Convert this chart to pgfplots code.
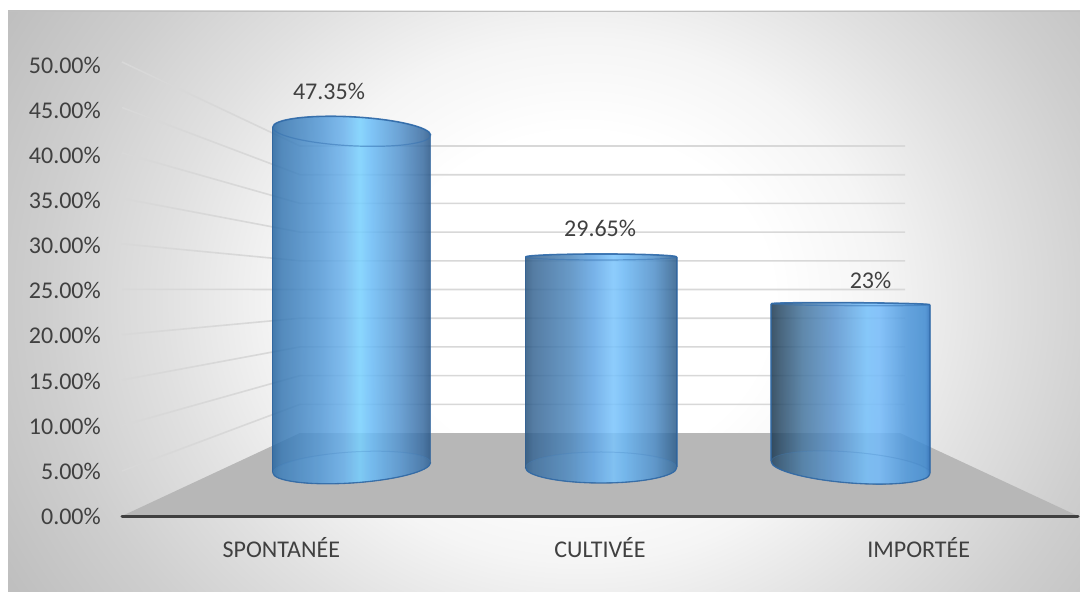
\documentclass[border=0pt]{standalone}
\usepackage{fontspec}
\setmainfont{Carlito}
\usepackage{pgfplots}
\pgfplotsset{compat=1.18}

\definecolor{labeltext}{RGB}{64,64,64}
\definecolor{floorgray}{RGB}{183,183,183}
\definecolor{wallgrid}{RGB}{216,216,216}
\definecolor{axisdark}{RGB}{64,64,64}
\definecolor{rimblue}{RGB}{52,112,176}
\definecolor{baseglow}{RGB}{116,186,244}

% Page backdrop: a soft radial fade from white to mid gray
\pgfdeclareradialshading{backdrop}{\pgfpoint{0bp}{0bp}}{%
  rgb(0bp)=(1,1,1); rgb(4.4bp)=(1,1,1); rgb(6.9bp)=(.96,.96,.96);
  rgb(9.6bp)=(.88,.88,.88); rgb(12.25bp)=(.81,.81,.81);
  rgb(15bp)=(.75,.75,.75); rgb(50bp)=(.75,.75,.75)}

% Glossy side faces of the three cylinders
\pgfdeclarehorizontalshading{cylA}{100bp}{%
  rgb(0bp)=(.15,.40,.63); rgb(25bp)=(.15,.40,.63); rgb(27.5bp)=(.22,.47,.70);
  rgb(40bp)=(.33,.60,.84); rgb(47.5bp)=(.42,.70,.93); rgb(52.5bp)=(.47,.82,1);
  rgb(56bp)=(.42,.74,.97); rgb(65bp)=(.33,.58,.81); rgb(72.5bp)=(.22,.42,.63);
  rgb(75bp)=(.15,.33,.52); rgb(100bp)=(.15,.33,.52)}
\pgfdeclarehorizontalshading{cylB}{100bp}{%
  rgb(0bp)=(.16,.33,.49); rgb(25bp)=(.16,.33,.49); rgb(27.5bp)=(.22,.40,.58);
  rgb(40bp)=(.31,.54,.75); rgb(47.5bp)=(.38,.65,.90); rgb(54bp)=(.48,.77,.99);
  rgb(57.5bp)=(.42,.72,.96); rgb(67.5bp)=(.31,.56,.79);
  rgb(75bp)=(.17,.36,.54); rgb(100bp)=(.17,.36,.54)}
\pgfdeclarehorizontalshading{cylC}{100bp}{%
  rgb(0bp)=(.11,.22,.31); rgb(25bp)=(.11,.22,.31); rgb(27.5bp)=(.16,.29,.40);
  rgb(35bp)=(.27,.46,.62); rgb(45bp)=(.35,.58,.81); rgb(55bp)=(.45,.75,.98);
  rgb(59bp)=(.45,.73,.98); rgb(67.5bp)=(.30,.59,.86); rgb(73.5bp)=(.24,.54,.82);
  rgb(75bp)=(.15,.42,.73); rgb(100bp)=(.15,.42,.73)}

% Half of a sheared ellipse from (#2,#3) to (#4,#5), bulging by #6, stored in #1
\newcommand\mkrim[6]{%
  \pgfmathsetmacro\rcx{(#2+#4)/2}\pgfmathsetmacro\rcy{(#3+#5)/2}%
  \pgfmathsetmacro\rux{(#4-#2)/2}\pgfmathsetmacro\ruy{(#5-#3)/2}%
  \pgfmathsetmacro\rca{#3+.5523*(#6)}%
  \pgfmathsetmacro\rcb{#5+.5523*(#6)}%
  \pgfmathsetmacro\rmx{\rcx-.5523*\rux}\pgfmathsetmacro\rmy{\rcy-.5523*\ruy+(#6)}%
  \pgfmathsetmacro\rnx{\rcx+.5523*\rux}\pgfmathsetmacro\rny{\rcy+.5523*\ruy+(#6)}%
  \pgfmathsetmacro\rty{\rcy+(#6)}%
  \edef#1{.. controls (#2,\rca) and (\rmx,\rmy) .. (\rcx,\rty)
          .. controls (\rnx,\rny) and (#4,\rcb) .. (#4,#5)}%
}

% Cylinder standing below the data point; its height follows the plotted value.
% #1 half width, #2 top tilt, #3 top bulge, #4 base tilt, #5 base bulge, #6 shading
\newcommand\drawcyl[6]{%
  \pgfmathsetmacro\hpx{\val*7.1}%
  \pgfmathsetmacro\xl{-(#1)}\def\xr{#1}%
  \pgfmathsetmacro\tl{#2}\pgfmathsetmacro\tr{-(#2)}%
  \pgfmathsetmacro\bl{-\hpx-(#4)}\pgfmathsetmacro\br{-\hpx+(#4)}%
  \mkrim\rimTB{\xr}{\tr}{\xl}{\tl}{#3}%
  \mkrim\rimTF{\xl}{\tl}{\xr}{\tr}{-#3}%
  \mkrim\rimBF{\xl}{\bl}{\xr}{\br}{-#5}%
  \mkrim\rimBB{\xr}{\br}{\xl}{\bl}{#5}%
  \begin{scope}[x=1pt,y=1pt]
    \shade[shading=#6,opacity=.85] (\xl,\tl) -- (\xl,\bl) \rimBF -- (\xr,\tr) \rimTB -- cycle;
    \fill[baseglow,opacity=.10] (\xl,\bl) \rimBF -- (\xr,\br) \rimBB -- cycle;
    \draw[rimblue,opacity=.7,line width=1.5pt] (\xl,\tl) -- (\xl,\bl);
    \draw[rimblue,opacity=.7,line width=1.5pt] (\xr,\tr) -- (\xr,\br);
    \draw[rimblue,opacity=.9,line width=1.6pt] (\xr,\tr) \rimTB;
    \draw[rimblue,opacity=.5,line width=1.2pt] (\xl,\tl) \rimTF;
    \draw[rimblue,opacity=.2,line width=1pt] (\xr,\br) \rimBB;
    \draw[rimblue,opacity=.85,line width=1.3pt] (\xl,\bl) \rimBF;
  \end{scope}%
}

\pgfdeclareplotmark{nomark}{}

\pgfplotsset{
  canvas axis/.style={
    at={(0pt,0pt)}, anchor=south west, scale only axis,
    width=1080pt, height=592pt, clip=false},
  cylinder plot/.style={
    scatter, only marks, mark=nomark,
    visualization depends on={rawy \as \val},
    scatter/@post marker code/.code={\endscope}},
  value label/.style args={#1/#2}{
    only marks, mark=nomark,
    point meta=y,
    nodes near coords={\pgfmathprintnumber[fixed,precision=2,assume math mode=true]{\pgfplotspointmeta}\%},
    nodes near coords style={anchor=center, inner sep=0pt, xshift=#1pt, yshift=#2pt,
      font=\fontsize{24}{28}\selectfont, text=labeltext}},
}

\begin{document}
\begin{tikzpicture}
  \path[use as bounding box] (0pt,0pt) rectangle (1080pt,592pt);

  % Panel behind the chart
  \begin{scope}[x=1pt,y=1pt]
    \begin{scope}
      \clip (8,0) rectangle (1080,581);
      \shade[shading=backdrop] (580-1090,292-950) rectangle (580+1090,292+950);
    \end{scope}
    \draw[color={rgb,255:red,192;green,192;blue,192},line width=1.5pt] (8,580.5) -- (1080,580.5);
  \end{scope}

  % Floor and wall lines of the 3-D frame, in page pixels measured from the top
  \begin{axis}[canvas axis, hide axis, xmin=0, xmax=1080, ymin=0, ymax=592, y dir=reverse]
    \addplot[fill=floorgray, draw=none] coordinates {(122,516) (1078,516) (900,433) (300,433)} -- cycle;
    \addplot[wallgrid, line width=1.6pt] coordinates {(122,471.0) (300,404.3) (905,404.3)};
    \addplot[wallgrid, line width=1.6pt] coordinates {(122,425.6) (300,375.6) (905,375.6)};
    \addplot[wallgrid, line width=1.6pt] coordinates {(122,380.0) (300,346.9) (905,346.9)};
    \addplot[wallgrid, line width=1.6pt] coordinates {(122,334.7) (300,318.2) (905,318.2)};
    \addplot[wallgrid, line width=1.6pt] coordinates {(122,289.3) (300,289.5) (905,289.5)};
    \addplot[wallgrid, line width=1.6pt] coordinates {(122,243.8) (300,260.8) (905,260.8)};
    \addplot[wallgrid, line width=1.6pt] coordinates {(122,198.4) (300,232.1) (905,232.1)};
    \addplot[wallgrid, line width=1.6pt] coordinates {(122,152.9) (300,203.4) (905,203.4)};
    \addplot[wallgrid, line width=1.6pt] coordinates {(122,107.5) (300,174.7) (905,174.7)};
    \addplot[wallgrid, line width=1.6pt] coordinates {(122,62.0) (300,146.0) (905,146.0)};
  \end{axis}

  % Front plane: value scale and category names
  \begin{axis}[
      at={(122pt,75.5pt)}, anchor=south west, scale only axis,
      width=956pt, height=451.5pt, clip=false,
      xmin=-0.5, xmax=2.5, ymin=0, ymax=50,
      axis x line*=bottom, axis y line*=left,
      x axis line style={axisdark, line width=3pt, line cap=round, -},
      y axis line style={draw=none},
      xtick={0,1,2}, xticklabels={SPONTANÉE,CULTIVÉE,IMPORTÉE},
      ytick={0,5,...,50},
      major tick length=0pt,
      scaled y ticks=false,
      /pgf/number format/assume math mode=true,
      yticklabel={\pgfmathprintnumber[fixed,fixed zerofill,precision=2]{\tick}\%},
      tick label style={font=\fontsize{24}{28}\selectfont, text=labeltext},
      yticklabel style={inner sep=0pt, anchor=east, xshift=-21pt},
      xticklabel style={inner sep=0pt, anchor=center, yshift=-31pt},
    ]
    \addplot[draw=none, forget plot] coordinates {(0,0) (2,0)};
  \end{axis}

  % Cylinders at mid depth: 7.1 units of page per percentage point
  \begin{axis}[canvas axis, hide axis,
      xmin=-1.4102, xmax=2.9202, ymin=-17.535, ymax=65.845]
    \addplot[cylinder plot,
      scatter/@pre marker code/.code={\scope\drawcyl{79}{4}{14.5}{5}{15.5}{cylA}}]
      coordinates {(0,47.35)};
    \addplot[cylinder plot,
      scatter/@pre marker code/.code={\scope\drawcyl{75.7}{0}{3}{0}{15.5}{cylB}}]
      coordinates {(1,29.65)};
    \addplot[cylinder plot,
      scatter/@pre marker code/.code={\scope\drawcyl{79.5}{.5}{1.5}{-6}{15.5}{cylC}}]
      coordinates {(2,23)};

    \addplot[value label={-22.7/40}] coordinates {(0,47.35)};
    \addplot[value label={-1/29}] coordinates {(1,29.65)};
    \addplot[value label={20/24}] coordinates {(2,23)};
  \end{axis}
\end{tikzpicture}
\end{document}
